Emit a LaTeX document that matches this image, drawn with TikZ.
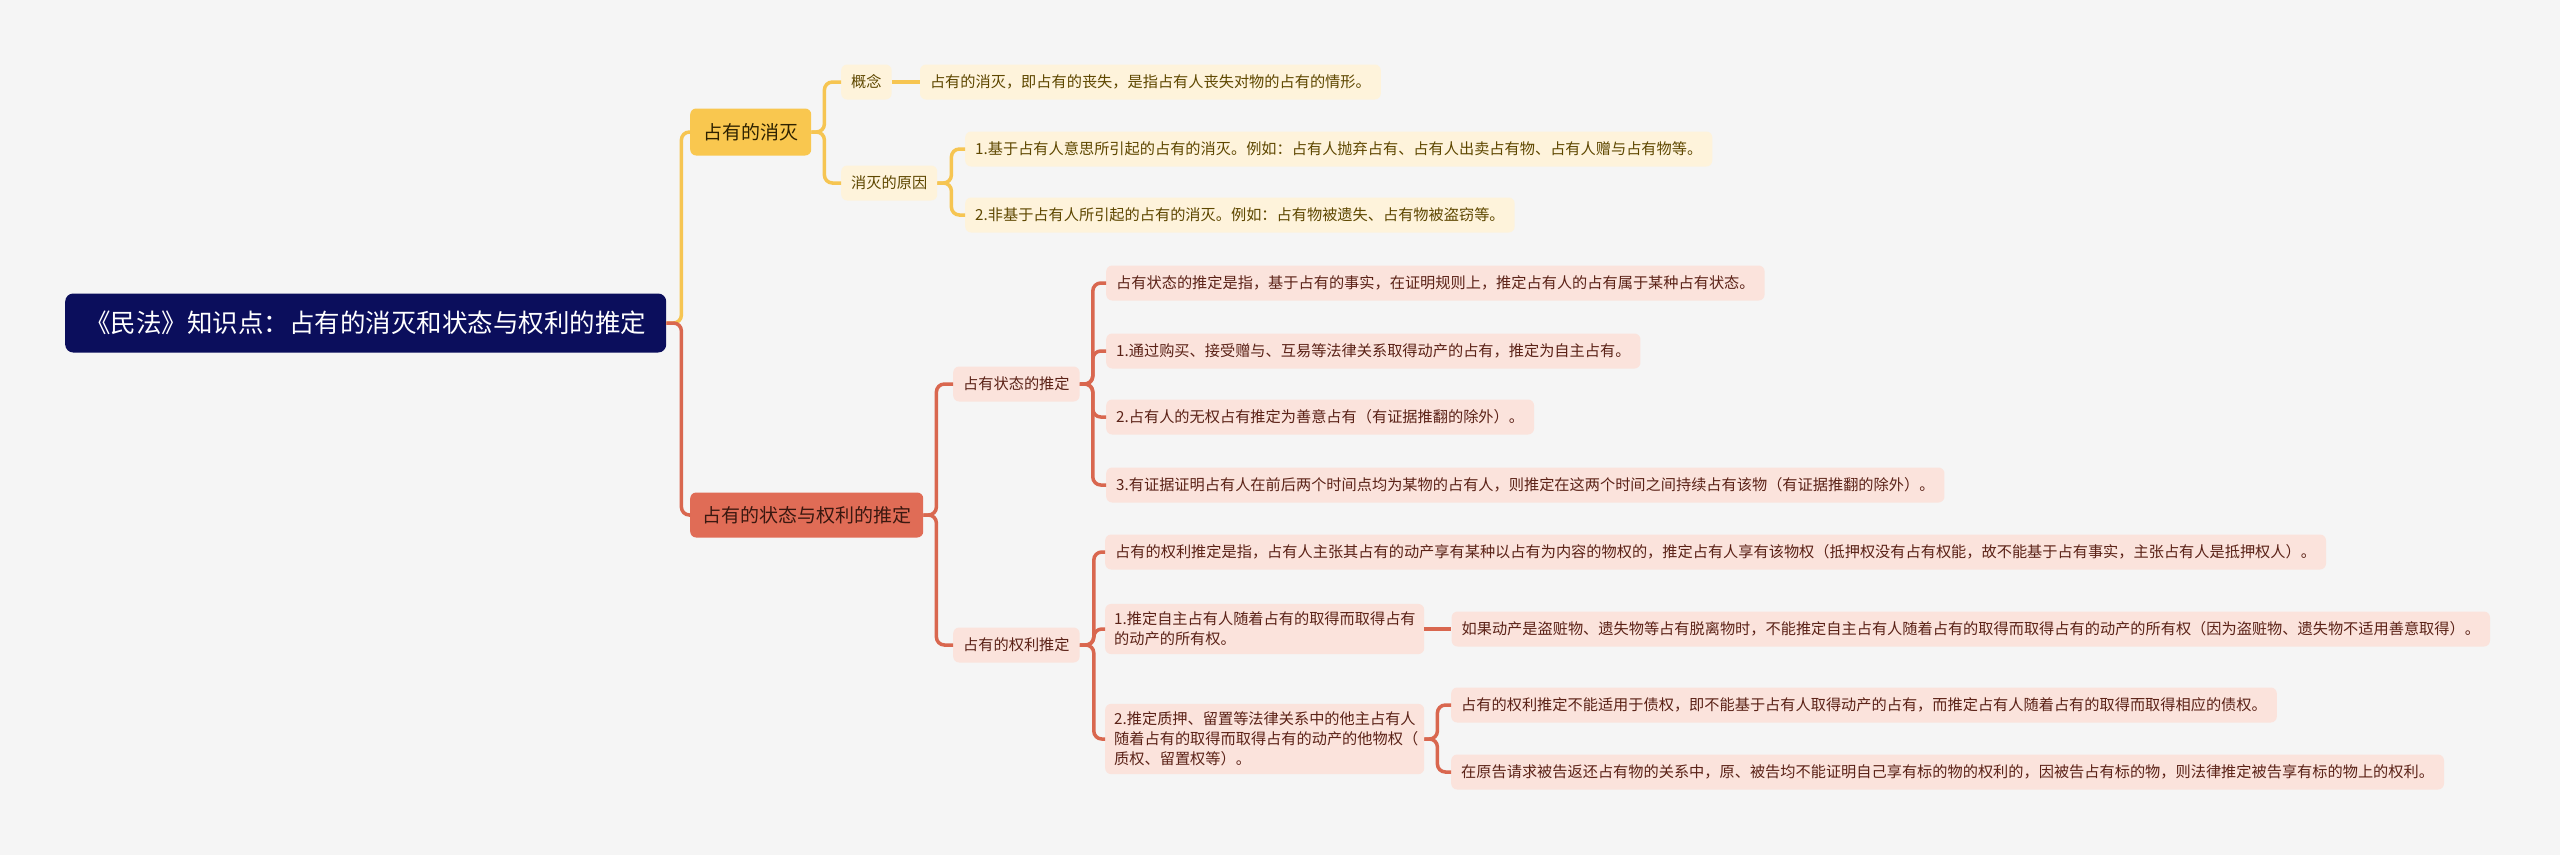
\documentclass[tikz,border=0pt]{standalone}
\usepackage{fontspec}
\usepackage{xcolor}
\usepackage{tikz}
\usetikzlibrary{positioning}
\newfontfamily\cjk{Noto Sans CJK SC}
\definecolor{pagegray}{HTML}{F5F5F5}
\definecolor{rootnavy}{HTML}{0B0E5C}
\definecolor{goldfill}{HTML}{F9C74F}
\definecolor{goldink}{HTML}{2E2200}
\definecolor{goldline}{HTML}{F6C552}
\definecolor{creamfill}{HTML}{FEF3DB}
\definecolor{creamink}{HTML}{5E4700}
\definecolor{coralfill}{HTML}{E06C56}
\definecolor{coralink}{HTML}{3A1810}
\definecolor{coralline}{HTML}{D9674F}
\definecolor{blushfill}{HTML}{FBE3DC}
\definecolor{blushink}{HTML}{5B2217}

\begin{document}
\begin{tikzpicture}[x=1pt, y=-1pt, node distance=28pt,
  every node/.style={font=\cjk\fontsize{15.2}{20}\selectfont, inner xsep=10pt, inner ysep=6pt, rounded corners=6pt},
  rootbox/.style={fill=rootnavy, text=white, font=\cjk\fontsize{25.5}{30}\selectfont, minimum height=59pt, inner xsep=20pt, rounded corners=8pt},
  ybranch/.style={fill=goldfill, text=goldink, font=\cjk\fontsize{19}{24}\selectfont, minimum height=47pt, inner xsep=13pt},
  rbranch/.style={fill=coralfill, text=coralink, font=\cjk\fontsize{19}{24}\selectfont, minimum height=45pt, inner xsep=12pt},
  ysub/.style={fill=creamfill, text=creamink, minimum height=35pt},
  rsub/.style={fill=blushfill, text=blushink, minimum height=35pt},
  rwide/.style={rsub, text width=301pt, align=left, inner xsep=9pt, inner ysep=8pt},
  ylink/.style={draw=goldline, line width=3.5pt, rounded corners=8pt},
  rlink/.style={draw=coralline, line width=3.5pt, rounded corners=8pt}]
\fill[pagegray] (0,0) rectangle (2560,855);
\path[use as bounding box] (0,0) rectangle (2560,855);

\node[rootbox, anchor=west] (root) at (65,323) {《民法》知识点：占有的消灭和状态与权利的推定};
\node[ybranch, anchor=west] (fade) at (690,132) {占有的消灭};
\node[rbranch, anchor=west] (presume) at (690,515) {占有的状态与权利的推定};

% 占有的消灭
\node[ysub, anchor=west] (concept) at (841,82) {概念};
\node[ysub, right=of concept] (conceptleaf) {占有的消灭，即占有的丧失，是指占有人丧失对物的占有的情形。};
\node[ysub, anchor=west] (cause) at (841,183) {消灭的原因};
\node[ysub, anchor=west] (cause1) at (965,149) {1.基于占有人意思所引起的占有的消灭。例如：占有人抛弃占有、占有人出卖占有物、占有人赠与占有物等。};
\node[ysub, anchor=west] (cause2) at (965,215) {2.非基于占有人所引起的占有的消灭。例如：占有物被遗失、占有物被盗窃等。};

% 占有状态的推定
\node[rsub, anchor=west] (state) at (953,384) {占有状态的推定};
\node[rsub, anchor=west] (st0) at (1106,283) {占有状态的推定是指，基于占有的事实，在证明规则上，推定占有人的占有属于某种占有状态。};
\node[rsub, anchor=west] (st1) at (1106,351) {1.通过购买、接受赠与、互易等法律关系取得动产的占有，推定为自主占有。};
\node[rsub, anchor=west] (st2) at (1106,417) {2.占有人的无权占有推定为善意占有（有证据推翻的除外）。};
\node[rsub, anchor=west] (st3) at (1106,485) {3.有证据证明占有人在前后两个时间点均为某物的占有人，则推定在这两个时间之间持续占有该物（有证据推翻的除外）。};

% 占有的权利推定
\node[rsub, anchor=west] (right) at (953,645) {占有的权利推定};
\node[rsub, anchor=west] (rt0) at (1105,552) {占有的权利推定是指，占有人主张其占有的动产享有某种以占有为内容的物权的，推定占有人享有该物权（抵押权没有占有权能，故不能基于占有事实，主张占有人是抵押权人）。};
\node[rwide, anchor=west] (rt1) at (1105,629) {1.推定自主占有人随着占有的取得而取得占有\\的动产的所有权。};
\node[rsub, right=27pt of rt1] (rt1a) {如果动产是盗赃物、遗失物等占有脱离物时，不能推定自主占有人随着占有的取得而取得占有的动产的所有权（因为盗赃物、遗失物不适用善意取得）。};
\node[rwide, anchor=west] (rt2) at (1105,739) {2.推定质押、留置等法律关系中的他主占有人\\随着占有的取得而取得占有的动产的他物权（\\质权、留置权等）。};
\node[rsub, anchor=west] (rt2a) at (1451,705) {占有的权利推定不能适用于债权，即不能基于占有人取得动产的占有，而推定占有人随着占有的取得而取得相应的债权。};
\node[rsub, anchor=west] (rt2b) at (1451,772) {在原告请求被告返还占有物的关系中，原、被告均不能证明自己享有标的物的权利的，因被告占有标的物，则法律推定被告享有标的物上的权利。};

% connectors
\draw[ylink] (root.east) -- ++(15,0) |- (fade.west);
\draw[rlink] (root.east) -- ++(15,0) |- (presume.west);
\foreach \kid in {concept,cause}
  \draw[ylink] (fade.east) -- ++(13,0) |- (\kid.west);
\draw[ylink] (concept) -- (conceptleaf);
\foreach \kid in {cause1,cause2}
  \draw[ylink] (cause.east) -- ++(14,0) |- (\kid.west);
\foreach \kid in {state,right}
  \draw[rlink] (presume.east) -- ++(13,0) |- (\kid.west);
\foreach \kid in {st0,st1,st2,st3}
  \draw[rlink] (state.east) -- ++(13,0) |- (\kid.west);
\foreach \kid in {rt0,rt1,rt2}
  \draw[rlink] (right.east) -- ++(14,0) |- (\kid.west);
\draw[rlink] (rt1) -- (rt1a);
\foreach \kid in {rt2a,rt2b}
  \draw[rlink] (rt2.east) -- ++(13,0) |- (\kid.west);
\end{tikzpicture}
\end{document}
